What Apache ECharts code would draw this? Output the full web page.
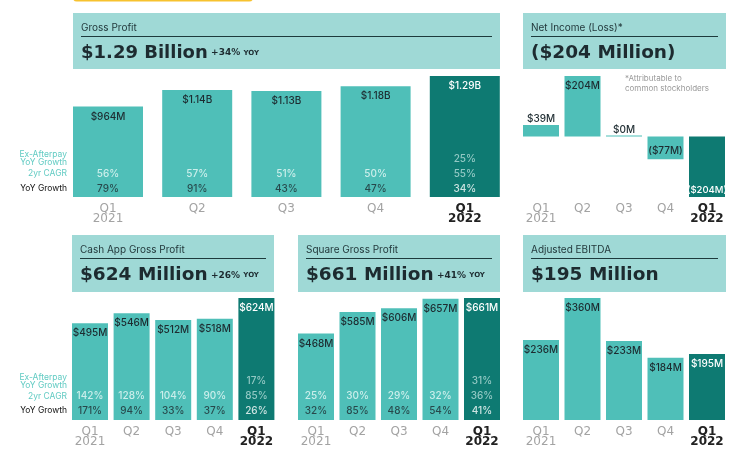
<!DOCTYPE html>
<html lang="en">
<head>
    <meta charset="UTF-8">
    <title>Q1 2022 Results</title>
    <script src="https://cdn.jsdelivr.net/npm/echarts@6/dist/echarts.min.js"></script>
    <style>
        html, body { margin: 0; padding: 0; background: #fff; }
        #main { width: 740px; height: 450px; }
    </style>
</head>
<body>
<div id="main"></div>
<script type="text/javascript">
    var quarters = ['Q1\n2021', 'Q2', 'Q3', 'Q4', 'Q1\n2022'];
    var rowNames = ['YoY Growth', '2yr CAGR', 'Ex-Afterpay\nYoY Growth'];

    var grossProfit = [964, 1140, 1130, 1180, 1290];
    var grossProfitLabels = ['$964M', '$1.14B', '$1.13B', '$1.18B', '$1.29B'];
    var grossProfitYoy = [79, 91, 43, 47, 34];
    var grossProfitCagr = [56, 57, 51, 50, 55];
    var grossProfitEx = [null, null, null, null, 25];

    var netIncome = [39, 204, 0, -77, -204];
    var netIncomeLabels = ['$39M', '$204M', '$0M', '($77M)', '($204M)'];

    var cashApp = [495, 546, 512, 518, 624];
    var cashAppLabels = ['$495M', '$546M', '$512M', '$518M', '$624M'];
    var cashAppYoy = [171, 94, 33, 37, 26];
    var cashAppCagr = [142, 128, 104, 90, 85];
    var cashAppEx = [null, null, null, null, 17];

    var square = [468, 585, 606, 657, 661];
    var squareLabels = ['$468M', '$585M', '$606M', '$657M', '$661M'];
    var squareYoy = [32, 85, 48, 54, 41];
    var squareCagr = [25, 30, 29, 32, 36];
    var squareEx = [null, null, null, null, 31];

    var ebitda = [236, 360, 233, 184, 195];
    var ebitdaLabels = ['$236M', '$360M', '$233M', '$184M', '$195M'];

    var TEAL = '#4fbfb8', DARK = '#0e7a72', HEAD = '#9fd9d6', INK = '#1d2b30';
    var MINT = '#62cbc3', FONT = 'Inter', WIDE = 'DejaVu Sans';

    var panels = [
        {title: 'Gross Profit', big: '$1.29 Billion', bigSize: 18, yoy: '+34%', x: 73, w: 427, y: 13, h: 56,
            bars: grossProfit, labels: grossProfitLabels, barW: 70, pitch: 89.2, top: 76, bottom: 197, min: 0, max: 1290,
            rows: [grossProfitYoy, grossProfitCagr, grossProfitEx], rowTop: 151, rowBottom: 196, rowNames: true},
        {title: 'Net Income (Loss)*', big: '($204 Million)', bigSize: 18.5, x: 523, w: 203, y: 13, h: 56,
            bars: netIncome, labels: netIncomeLabels, barW: 36, pitch: 41.5, top: 76, bottom: 197, min: -204, max: 204,
            pos: ['top', 'insideTop', 'top', 'inside', 'insideBottom']},
        {title: 'Cash App Gross Profit', big: '$624 Million', bigSize: 18.5, yoy: '+26%', x: 72, w: 202, y: 235, h: 57,
            bars: cashApp, labels: cashAppLabels, barW: 36, pitch: 41.6, top: 298, bottom: 420, min: 0, max: 624,
            rows: [cashAppYoy, cashAppCagr, cashAppEx], rowTop: 374, rowBottom: 418, rowNames: true},
        {title: 'Square Gross Profit', big: '$661 Million', bigSize: 18.5, yoy: '+41%', x: 298, w: 202, y: 235, h: 57,
            bars: square, labels: squareLabels, barW: 36, pitch: 41.5, top: 298, bottom: 420, min: 0, max: 661,
            rows: [squareYoy, squareCagr, squareEx], rowTop: 374, rowBottom: 418},
        {title: 'Adjusted EBITDA', big: '$195 Million', bigSize: 18.5, x: 523, w: 203, y: 235, h: 57,
            bars: ebitda, labels: ebitdaLabels, barW: 36, pitch: 41.5, top: 298, bottom: 420, min: 0, max: 360}
    ];

    // label placement for one bar
    function barLabel(p, i) {
        var pos = p.pos ? p.pos[i] : 'insideTop';
        var lab = {position: pos, color: i === 4 ? '#fff' : INK, distance: 5};
        if (pos === 'top') lab.distance = 1;
        if (pos === 'inside') lab.offset = [0, 3];
        if (pos === 'insideBottom') {
            lab.distance = 2;
            lab.fontSize = 9.5;
        }
        return lab;
    }

    var grids = [], xAxes = [], yAxes = [], series = [];
    var graphics = [
        {type: 'rect', shape: {x: 73, y: -6, width: 180, height: 7.5, r: 4}, style: {fill: '#f7c22e'}},
        {type: 'text', x: 625, y: 73, style: {text: '*Attributable to\ncommon stockholders', fill: '#999', font: '8px ' + FONT, lineHeight: 10.5}}
    ];

    panels.forEach(function (p) {
        // the bars
        var left = p.x + (p.barW - p.pitch) / 2;
        var width = p.pitch * 5;
        var gi = grids.length;
        grids.push({left: left, top: p.top, width: width, height: p.bottom - p.top});
        xAxes.push({
            type: 'category', gridIndex: gi, data: quarters, position: 'bottom',
            axisLine: {show: false, onZero: false}, axisTick: {show: false},
            axisLabel: {
                show: true, interval: 0, margin: 7, fontFamily: WIDE, fontSize: 12, lineHeight: 10, color: '#a3a3a3',
                formatter: function (v, i) {
                    if (i !== 4) return v;
                    return v.split('\n').map(function (s) { return '{now|' + s + '}'; }).join('\n');
                },
                rich: {now: {color: '#222', fontWeight: 'bold', fontFamily: WIDE, fontSize: 12, lineHeight: 10}}
            }
        });
        yAxes.push({type: 'value', gridIndex: gi, min: p.min, max: p.max, show: false});
        series.push({
            type: 'bar', xAxisIndex: gi, yAxisIndex: gi, barWidth: p.barW, barMinHeight: 1,
            data: p.bars.map(function (v, i) {
                return {
                    value: v,
                    itemStyle: {color: i === 4 ? DARK : TEAL},
                    label: barLabel(p, i)
                };
            }),
            label: {
                show: true, fontFamily: FONT, fontSize: 10, fontWeight: 500,
                formatter: function (o) { return p.labels[o.dataIndex]; }
            }
        });

        // the percent rows, laid over the same columns
        if (p.rows) {
            var ri = grids.length;
            grids.push({left: left, top: p.rowTop, width: width, height: p.rowBottom - p.rowTop});
            xAxes.push({type: 'category', gridIndex: ri, data: quarters, show: false});
            yAxes.push({
                type: 'category', gridIndex: ri, data: rowNames, show: !!p.rowNames,
                axisLine: {show: false}, axisTick: {show: false},
                axisLabel: {
                    show: !!p.rowNames, margin: left - 67, fontFamily: FONT, fontSize: 8.5, lineHeight: 8,
                    color: function (v, i) { return i === 0 ? '#111' : MINT; }
                }
            });
            p.rows.forEach(function (row, r) {
                series.push({
                    type: 'scatter', xAxisIndex: ri, yAxisIndex: ri, symbolSize: 0, silent: true,
                    data: row.map(function (v, i) {
                        if (v === null) return null;
                        var c;
                        if (i === 4) c = r === 0 ? '#fff' : '#b4dcd8';
                        else c = r === 0 ? INK : '#eafaf8';
                        return {value: [i, r, v], label: {color: c}};
                    }),
                    label: {
                        show: true, position: 'inside', fontFamily: FONT, fontSize: 10, fontWeight: 500,
                        formatter: function (o) { return o.value[2] + '%'; }
                    }
                });
            });
        }

        // the header block
        graphics.push({type: 'rect', shape: {x: p.x, y: p.y, width: p.w, height: p.h}, style: {fill: HEAD}});
        graphics.push({
            type: 'line', shape: {x1: p.x + 8, y1: p.y + 23.5, x2: p.x + p.w - 8, y2: p.y + 23.5},
            style: {stroke: '#1d3a3c', lineWidth: 1}
        });
        graphics.push({
            type: 'text', x: p.x + 8, y: p.y + 10,
            style: {text: p.title, fill: '#23393c', font: '10px ' + FONT}
        });
        graphics.push({
            type: 'text', x: p.x + 8, y: p.y + 31,
            style: {
                text: '{a|' + p.big + '}' + (p.yoy ? ' {b|' + p.yoy + '} {c|YOY}' : ''),
                rich: {
                    a: {font: 'bold ' + p.bigSize + 'px ' + WIDE, fill: INK},
                    b: {font: 'bold 9px ' + WIDE, fill: INK},
                    c: {font: 'bold 7px ' + WIDE, fill: INK}
                }
            }
        });
    });

    var myChart = echarts.init(document.getElementById('main'));
    myChart.setOption({
        backgroundColor: '#fff',
        animation: false,
        grid: grids,
        xAxis: xAxes,
        yAxis: yAxes,
        series: series,
        graphic: graphics
    });
</script>
</body>
</html>
